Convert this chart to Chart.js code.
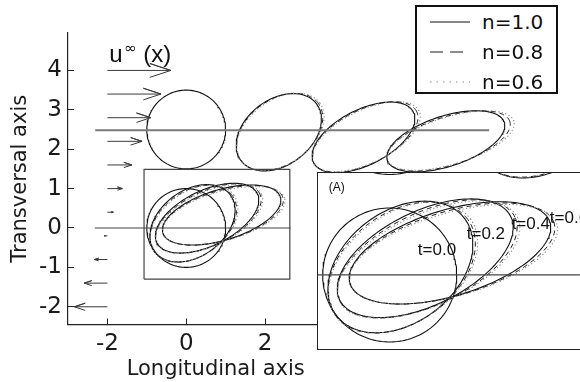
<!DOCTYPE html>
<html>
<head>
<meta charset="utf-8">
<script src="https://cdn.jsdelivr.net/npm/chart.js@4/dist/chart.umd.min.js"></script>
<style>
  html, body { margin: 0; padding: 0; background: #fff; overflow: hidden; }
  #wrap { position: relative; width: 580px; height: 382px; overflow: hidden; }
  #main { position: absolute; left: 0; top: 0; }
  #insetBox { position: absolute; left: 317px; top: 172px; width: 263px; height: 176px;
              border: 1px solid #222; border-right: none; background: #fff; }
  #inset { position: absolute; left: 0; top: 0; }
  #legend { position: absolute; left: 415px; top: 5px; width: 139px; height: 85px;
            border: 2px solid #111; background: #fff; font-family: "DejaVu Sans", sans-serif;
            font-size: 20px; color: #111; }
  #legend .row { position: absolute; left: 0; height: 30px; display: flex; align-items: center; }
  #legend svg { margin-left: 13px; margin-right: 12px; }
</style>
</head>
<body>
<div id="wrap">
  <canvas id="main" width="580" height="382"></canvas>
  <div id="insetBox"><canvas id="inset" width="263" height="176"></canvas></div>
  <div id="legend"></div>
</div>
<script>
// ---- series (power-law index n) ----
const nLabels = ['n=1.0', 'n=0.8', 'n=0.6'];
const stepLabels = ['t=0.0', 't=0.2', 't=0.4', 't=0.6'];

// ---- drop outlines near the origin: centre, semi-axes, tilt (deg), per n ----
const dropCx   = [[0, 0.16, 0.53, 0.90], [0, 0.18, 0.56, 0.93], [0, 0.20, 0.58, 0.95]];
const dropCy   = [[0, 0.12, 0.25, 0.33], [0, 0.11, 0.24, 0.32], [0, 0.11, 0.23, 0.31]];
const dropA    = [[1, 1.20, 1.42, 1.56], [1, 1.22, 1.45, 1.59], [1, 1.24, 1.47, 1.61]];
const dropB    = [[1, 0.833, 0.70, 0.64], [1, 0.82, 0.69, 0.63], [1, 0.81, 0.68, 0.62]];
const dropTilt = [[0, 37, 26, 17], [0, 36, 25.5, 16.5], [0, 35.5, 25, 16]];

// ---- drop outlines along the upper row (y about 2.5) ----
const rowCx   = [[0, 2.35, 4.50, 6.59], [0, 2.37, 4.54, 6.66], [0, 2.39, 4.57, 6.71]];
const rowCy   = [[2.5, 2.43, 2.30, 2.20], [2.5, 2.44, 2.31, 2.21], [2.5, 2.44, 2.32, 2.22]];
const rowA    = [[1, 1.20, 1.42, 1.56], [1, 1.22, 1.46, 1.63], [1, 1.24, 1.49, 1.68]];
const rowB    = [[1, 0.833, 0.70, 0.64], [1, 0.82, 0.685, 0.615], [1, 0.81, 0.67, 0.60]];
const rowTilt = [[0, 37, 27, 18], [0, 36.5, 26.5, 17.5], [0, 36, 26, 17]];

// ---- imposed velocity profile u(x): arrows from x = -2 ----
const arrowBaseX = -2.0;
const arrowY    = [4.0, 3.4, 2.8, 2.2, 1.6, 1.0, 0.4, -0.2, -0.8, -1.4, -2.0];
const arrowTipX = [-0.39, -0.64, -0.90, -1.12, -1.38, -1.62, -1.85, -2.08, -2.33, -2.59, -2.84];

// ---- reference lines and zoom window ----
const centreLineX = [-2.32, 2.65];      // y = 0
const rowLineX = [-2.31, 7.69];         // upper row axis
const rowLineY = 2.48;
const boxX = [-1.07, 2.63];
const boxY = [-1.30, 1.49];
const insetLineX = [-1.07, 2.84];

// ---- tick values ----
const xTicks = [-2, 0, 2, 4];
const yTicks = [-2, -1, 0, 1, 2, 3, 4];

// ---- text notes ----
const flowNoteText = ['u', '\u221E', '(x)'];
const flowNoteX = [-1.95, -1.57, -1.09];
const flowNoteY = [4.21, 4.43, 4.21];
const insetNoteText = ['(A)'].concat(stepLabels);
const insetNoteX = [-0.91, 0.42, 1.15, 1.82, 2.39];
const insetNoteY = [1.30, 0.37, 0.61, 0.75, 0.84];

// ---- styles ----
const seriesColor = ['#111', '#1a1a1a', '#8a8a8a'];
const seriesDash = [[], [5, 4], [1.2, 2.4]];
const seriesWidth = [1.1, 1.0, 1.1];
const legendDash = ['', '13 7', '1.5 5'];

function outline(cx, cy, a, b, tiltDeg) {
  const th = tiltDeg * Math.PI / 180, pts = [];
  const N = 160;
  for (let k = 0; k <= N; k++) {
    const s = 2 * Math.PI * k / N;
    const u = a * Math.cos(s), v = b * Math.sin(s);
    pts.push({ x: cx + u * Math.cos(th) - v * Math.sin(th), y: cy + u * Math.sin(th) + v * Math.cos(th) });
  }
  return pts;
}

function lineSet(points, extra) {
  return Object.assign({
    data: points, showLine: true, pointRadius: 0, borderWidth: 1,
    borderColor: '#111', fill: false, tension: 0, clip: false
  }, extra || {});
}

function dropSets(cxs, cys, as, bs, tilts) {
  const sets = [];
  // dotted first, solid last so the solid outline stays on top
  for (let n = nLabels.length - 1; n >= 0; n--) {
    for (let t = 0; t < stepLabels.length; t++) {
      if (t === 0 && n > 0) continue; // initial circle is common to all n
      sets.push(lineSet(outline(cxs[n][t], cys[n][t], as[n][t], bs[n][t], tilts[n][t]), {
        label: nLabels[n] + ' ' + stepLabels[t],
        borderColor: seriesColor[n], borderDash: seriesDash[n], borderWidth: seriesWidth[n]
      }));
    }
  }
  return sets;
}

function arrowSets() {
  return arrowY.map((yv, i) => {
    const tip = arrowTipX[i], len = tip - arrowBaseX;
    const back = tip - 0.33 * len, half = 0.33 * 0.33 * Math.abs(len);
    return lineSet([
      { x: arrowBaseX, y: yv }, { x: tip, y: yv }, { x: back, y: yv + half },
      { x: tip, y: yv }, { x: back, y: yv - half }
    ], { borderColor: '#3a3a3a', borderWidth: 1 });
  });
}

const notesPlugin = {
  id: 'notes',
  afterDatasetsDraw(chart, args, opts) {
    const { ctx } = chart, xs = chart.scales.x, ys = chart.scales.y;
    (opts.items || []).forEach(it => {
      ctx.save();
      ctx.font = it.font;
      ctx.fillStyle = it.color || '#111';
      ctx.textAlign = 'left';
      ctx.textBaseline = it.baseline || 'alphabetic';
      ctx.fillText(it.text, xs.getPixelForValue(it.x), ys.getPixelForValue(it.y));
      ctx.restore();
    });
  }
};

// ---------- main axes ----------
const mainSets = [].concat(
  arrowSets(),
  [
    lineSet([{ x: centreLineX[0], y: 0 }, { x: centreLineX[1], y: 0 }], { borderColor: '#444', borderWidth: 1.2 }),
    lineSet([{ x: rowLineX[0], y: rowLineY }, { x: rowLineX[1], y: rowLineY }], { borderColor: '#7a7a7a', borderWidth: 2 }),
    lineSet([
      { x: boxX[0], y: boxY[0] }, { x: boxX[1], y: boxY[0] }, { x: boxX[1], y: boxY[1] },
      { x: boxX[0], y: boxY[1] }, { x: boxX[0], y: boxY[0] }
    ], { borderColor: '#444', borderWidth: 1.2 })
  ],
  dropSets(dropCx, dropCy, dropA, dropB, dropTilt),
  dropSets(rowCx, rowCy, rowA, rowB, rowTilt)
);

const tickFont = { family: 'DejaVu Sans', size: 23 };
const titleFont = { family: 'DejaVu Sans', size: 21 };

new Chart(document.getElementById('main'), {
  type: 'scatter',
  data: { datasets: mainSets },
  plugins: [notesPlugin],
  options: {
    responsive: false, animation: false, events: [],
    layout: { padding: { left: 0, top: 33, right: 216.5, bottom: 0 } },
    plugins: {
      legend: { display: false }, tooltip: { enabled: false },
      notes: {
        items: flowNoteText.map((t, i) => ({
          text: t, x: flowNoteX[i], y: flowNoteY[i],
          font: (i === 1 ? '15px "DejaVu Sans"' : '24px "Liberation Sans"')
        }))
      }
    },
    scales: {
      x: {
        type: 'linear', min: -3, max: 4.5,
        afterBuildTicks: s => { s.ticks = xTicks.map(v => ({ value: v })); },
        grid: { drawOnChartArea: false, drawTicks: true, tickLength: -6, color: '#222', lineWidth: 1 },
        border: { display: true, color: '#222', width: 1.2 },
        ticks: { font: tickFont, color: '#1a1a1a', padding: 12, maxRotation: 0, autoSkip: false },
        title: { display: true, text: 'Longitudinal axis', font: titleFont, color: '#1a1a1a', padding: { top: 0, bottom: 0 } },
        afterFit: s => { s.height = 57.5; }
      },
      y: {
        type: 'linear', min: -2.45, max: 4.95,
        afterBuildTicks: s => { s.ticks = yTicks.map(v => ({ value: v })); },
        grid: { drawOnChartArea: false, drawTicks: true, tickLength: -6, color: '#222', lineWidth: 1 },
        border: { display: true, color: '#222', width: 1.2 },
        ticks: { font: tickFont, color: '#1a1a1a', padding: 12, autoSkip: false },
        title: { display: true, text: 'Transversal axis', font: titleFont, color: '#1a1a1a', padding: { top: 8, bottom: 0 } },
        afterFit: s => { s.width = 68; }
      }
    }
  }
});

// ---------- magnified view (A) ----------
const insetSets = [].concat(
  [lineSet([{ x: insetLineX[0], y: 0 }, { x: insetLineX[1], y: 0 }], { borderColor: '#444', borderWidth: 1.2, clip: undefined })],
  dropSets(dropCx, dropCy, dropA, dropB, dropTilt),
  dropSets(rowCx, rowCy, rowA, rowB, rowTilt)
).map(d => Object.assign(d, { clip: 0 }));

new Chart(document.getElementById('inset'), {
  type: 'scatter',
  data: { datasets: insetSets },
  plugins: [notesPlugin],
  options: {
    responsive: false, animation: false, events: [],
    layout: { padding: 0 },
    plugins: {
      legend: { display: false }, tooltip: { enabled: false },
      notes: {
        items: insetNoteText.map((t, i) => ({
          text: t, x: insetNoteX[i], y: insetNoteY[i], baseline: 'middle',
          font: (i === 0 ? '12px "Liberation Sans"' : '17px "Liberation Sans"')
        }))
      }
    },
    scales: {
      x: { type: 'linear', display: false, min: -1.07, max: -1.07 + 263 / 67 },
      y: { type: 'linear', display: false, min: -1.105, max: 1.522 }
    }
  }
});

// ---------- legend ----------
const legend = document.getElementById('legend');
nLabels.forEach((lab, i) => {
  const row = document.createElement('div');
  row.className = 'row';
  row.style.top = (i * 30 + 0) + 'px';
  const svgNS = 'http://www.w3.org/2000/svg';
  const svg = document.createElementNS(svgNS, 'svg');
  svg.setAttribute('width', '40'); svg.setAttribute('height', '10');
  const ln = document.createElementNS(svgNS, 'line');
  ln.setAttribute('x1', '0'); ln.setAttribute('y1', '5');
  ln.setAttribute('x2', '40'); ln.setAttribute('y2', '5');
  ln.setAttribute('stroke', seriesColor[i]);
  ln.setAttribute('stroke-width', '1.2');
  if (legendDash[i]) ln.setAttribute('stroke-dasharray', legendDash[i]);
  svg.appendChild(ln);
  const span = document.createElement('span');
  span.textContent = lab;
  row.appendChild(svg); row.appendChild(span);
  legend.appendChild(row);
});
</script>
</body>
</html>
